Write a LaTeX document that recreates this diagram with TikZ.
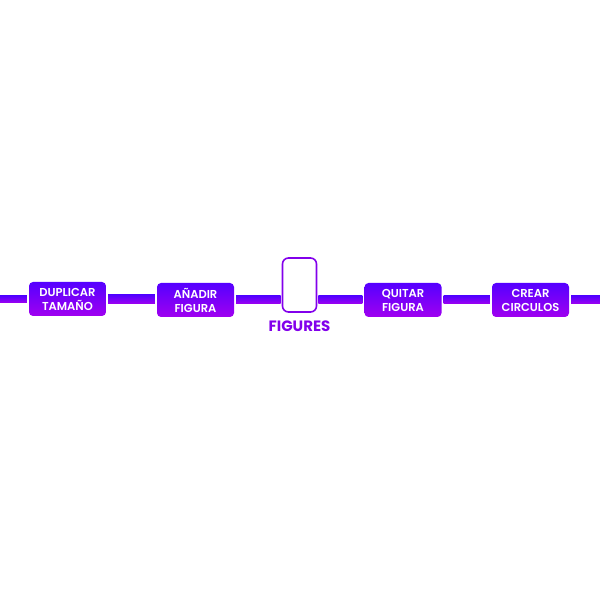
\documentclass[tikz,border=0pt]{standalone}
\usepackage{fontspec}
\setmainfont{Poppins}
\newfontfamily\semibold{Poppins SemiBold}
\usetikzlibrary{positioning}

\begin{document}
\begin{tikzpicture}[x=1pt, y=1pt]
      \definecolor{clrtop}{RGB}{85,0,255}
      \definecolor{clrbot}{RGB}{160,0,240}
      \definecolor{clrtxt}{RGB}{130,0,235}
      \tikzset{
        task/.style={rounded corners=4pt, top color=clrtop, bottom color=clrbot, draw=none,
          minimum width=77pt, minimum height=34pt, inner sep=0pt, align=center,
          text=white, font=\semibold\fontsize{11.5}{14}\selectfont},
        bar/.style={top color=clrtop, bottom color=clrbot}
      }
      \useasboundingbox (0, 0) rectangle (600, 600);

      \node[task] (dup) at (67.5, 301) {DUPLICAR\\TAMAÑO};
      \node[task] (add) at (195.5, 300) {AÑADIR\\FIGURA};
      \node[draw=clrtxt, line width=1.6pt, rounded corners=6pt, minimum width=34pt, minimum height=54pt, inner sep=0pt] (fig) at (299.5, 315) {};
      \node[text=clrtxt, font=\bfseries\fontsize{15}{17}\selectfont, inner sep=0pt] (figlbl) at (299.5, 274) {FIGURES};
      \node[task] (rem) at (403, 300) {QUITAR\\FIGURA};
      \node[task] (circ) at (530.5, 300) {CREAR\\CIRCULOS};

      \coordinate (lft) at (0, 304);
      \coordinate (rgt) at (600, 296);

      \shade[bar] (lft) rectangle ([xshift=-2pt, yshift=-4pt]dup.west);
      \shade[bar] ([xshift=2pt, yshift=4pt]dup.east) rectangle ([xshift=-2pt, yshift=-4pt]add.west);
      \shade[bar] ([xshift=2pt, yshift=4pt]add.east) rectangle ([xshift=-1pt, yshift=-19pt]fig.west);
      \shade[bar] ([xshift=1pt, yshift=-11pt]fig.east) rectangle ([xshift=-2pt, yshift=-4pt]rem.west);
      \shade[bar] ([xshift=2pt, yshift=4pt]rem.east) rectangle ([xshift=-2pt, yshift=-4pt]circ.west);
      \shade[bar] ([xshift=2pt, yshift=4pt]circ.east) rectangle (rgt);
    \end{tikzpicture}
\end{document}
